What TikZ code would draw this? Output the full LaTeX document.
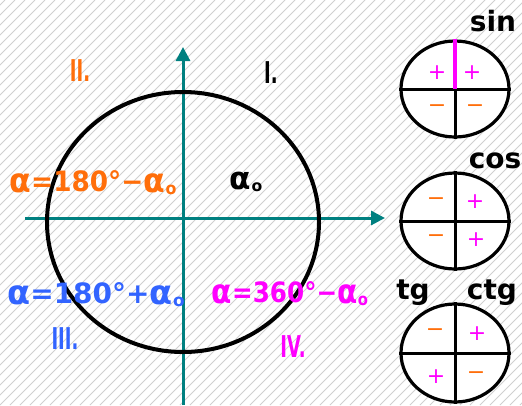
\documentclass[tikz,border=0pt]{standalone}
\usepackage{fontspec}
\usepackage{graphicx}
\setmainfont{DejaVu Sans}
\usetikzlibrary{arrows.meta,shapes.geometric}
\definecolor{teal}{RGB}{0,128,128}
\definecolor{myorange}{RGB}{255,110,10}
\definecolor{myblue}{RGB}{50,100,255}
\definecolor{mymag}{RGB}{255,0,255}
\definecolor{hatch}{RGB}{208,208,208}
\newcommand\al{\raisebox{-0.02em}{\scalebox{1.2}{α}}}
\newcommand\azero{\al\kern0.5pt\raisebox{-0.1em}{\scalebox{0.6}{o}}}
\tikzset{
  axis/.style={teal, line width=3pt, -{Triangle[length=14pt,width=14pt]}},
  big/.style={font=\fontsize{28}{28}\selectfont\bfseries, inner sep=0pt},
  mid/.style={font=\fontsize{26}{26}\selectfont\bfseries, inner sep=0pt},
  roman/.style={font=\fontsize{30}{30}\selectfont\bfseries, inner sep=0pt, xscale=0.6},
  fname/.style={font=\fontsize{28}{28}\selectfont\bfseries, inner sep=0pt},
  sgn/.style={font=\fontsize{22}{22}\selectfont, inner sep=0pt},
  small/.style={draw=black, fill=white, line width=3.2pt},
}
\begin{document}
\begin{tikzpicture}[x=1pt,y=-1pt]
\useasboundingbox (0,0) rectangle (522,405);
\fill[white] (0,0) rectangle (522,405);
\begin{scope}
\clip (0,0) rectangle (522,405);
\foreach \i in {-410,-400,...,530} {
  \draw[hatch, line width=0.9pt] (\i,405) -- ++(405,-405);
}
\end{scope}
% axes
\coordinate (xs) at (25,218);
\coordinate (xe) at (385,218);
\coordinate (ys) at (183,405);
\coordinate (ye) at (183,47);
\draw[axis] (xs) -- (xe);
\draw[axis] (ys) -- (ye);
% main circle
\node[draw=black, line width=4pt, ellipse, minimum width=272pt, minimum height=260pt, inner sep=0pt] (main) at (183,222) {};
% labels
\node[roman, myorange] (q2) at (80,71) {II.};
\node[roman, black] (q1) at (271,73) {I.};
\node[roman, myblue] (q3) at (65,339) {III.};
\node[roman, mymag] (q4) at (293,347) {IV.};
\node[big, myorange, xscale=0.94] (f2) at (93,183) {\al=180°−\azero};
\node[mid, black] (a0) at (246,182) {\azero};
\node[big, myblue] (f3) at (96,295) {\al=180°+\azero};
\node[big, mymag, xscale=0.88] (f4) at (290,294) {\al=360°−\azero};
% sin
\node[small, ellipse, minimum width=108pt, minimum height=96pt, inner sep=0pt] (sinc) at (455,89) {};
\draw[line width=3pt] (sinc.west) -- (sinc.east);
\draw[line width=3pt] (sinc.center) -- (sinc.south);
\draw[mymag, line width=4pt] (sinc.north) -- (sinc.center);
\node[fname] (sin) at (493,21) {sin};
\node[sgn, mymag] (s1) at (437,73) {+};
\node[sgn, mymag] (s2) at (472,73) {+};
\node[sgn, myorange] (s3) at (437,109) {−};
\node[sgn, myorange] (s4) at (475,109) {−};
% cos
\node[small, ellipse, minimum width=108pt, minimum height=96pt, inner sep=0pt] (cosc) at (455,221) {};
\draw[line width=3pt] (cosc.west) -- (cosc.east);
\draw[line width=3pt] (cosc.north) -- (cosc.south);
\node[fname] (cos) at (495,161) {cos};
\node[sgn, myorange] (c1) at (436,202) {−};
\node[sgn, mymag] (c2) at (475,202) {+};
\node[sgn, myorange] (c3) at (436,239) {−};
\node[sgn, mymag] (c4) at (476,240) {+};
% tg ctg
\node[small, ellipse, minimum width=108pt, minimum height=98pt, inner sep=0pt] (tgc) at (455,353) {};
\draw[line width=3pt] (tgc.west) -- (tgc.east);
\draw[line width=3pt] (tgc.north) -- (tgc.south);
\node[fname] (tg) at (413,293) {tg};
\node[fname] (ctg) at (492,293) {ctg};
\node[sgn, myorange] (t1) at (435,333) {−};
\node[sgn, mymag] (t2) at (477,334) {+};
\node[sgn, mymag] (t3) at (436,377) {+};
\node[sgn, myorange] (t4) at (476,376) {−};
\end{tikzpicture}
\end{document}
